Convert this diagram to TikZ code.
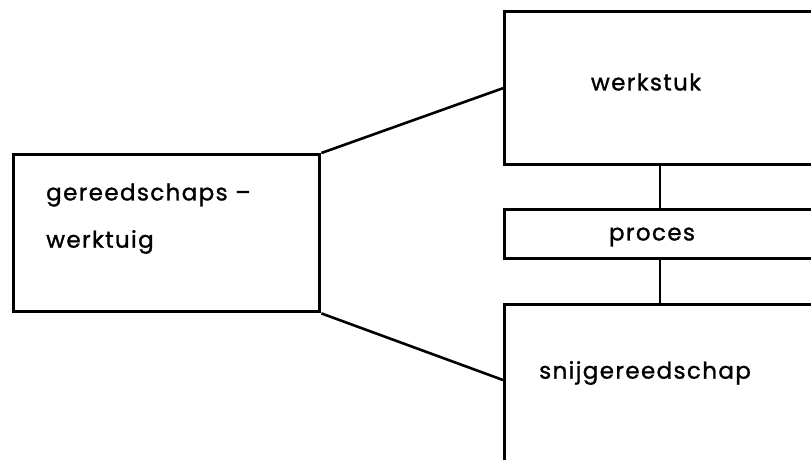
\documentclass[tikz,border=0pt]{standalone}
\usepackage{fontspec}
\setmainfont{Poppins}[LetterSpace=6, FakeBold=1.2]
\begin{document}
\begin{tikzpicture}[x=1pt,y=-1pt,
  box/.style={draw, line width=3.4pt, inner sep=0pt, anchor=north west},
  lbl/.style={inner sep=0pt, font=\fontsize{23}{26}\selectfont},
  conn/.style={line width=2.2pt},
  diag/.style={line width=2.6pt}]
\useasboundingbox (0,0) rectangle (811,459);
\clip (0,0) rectangle (811,459);
% boxes
\node[box, minimum width=306pt, minimum height=157pt] (gw) at (12,153) {};
\node[box, minimum width=310pt, minimum height=153pt] (ws) at (503,10) {};
\node[box, minimum width=310pt, minimum height=49pt] (pr) at (503,208) {};
\node[box, minimum width=310pt, minimum height=170pt] (sn) at (503,303) {};
% texts
\node[lbl, anchor=west] (t1) at (46,195) {gereedschaps –};
\node[lbl, anchor=west] (t2) at (46,242) {werktuig};
\node[lbl] (t3) at (646,82) {werkstuk};
\node[lbl] (t4) at (652,237) {proces};
\node[lbl, anchor=west] (t5) at (539,373) {snijgereedschap};
% connectors
\draw[conn] (ws.south) -- (pr.north);
\draw[conn] (pr.south) -- (sn.north);
\draw[diag] (gw.north east) -- (ws.west);
\draw[diag] (gw.south east) -- ([yshift=-77pt]sn.north west);
\end{tikzpicture}
\end{document}
